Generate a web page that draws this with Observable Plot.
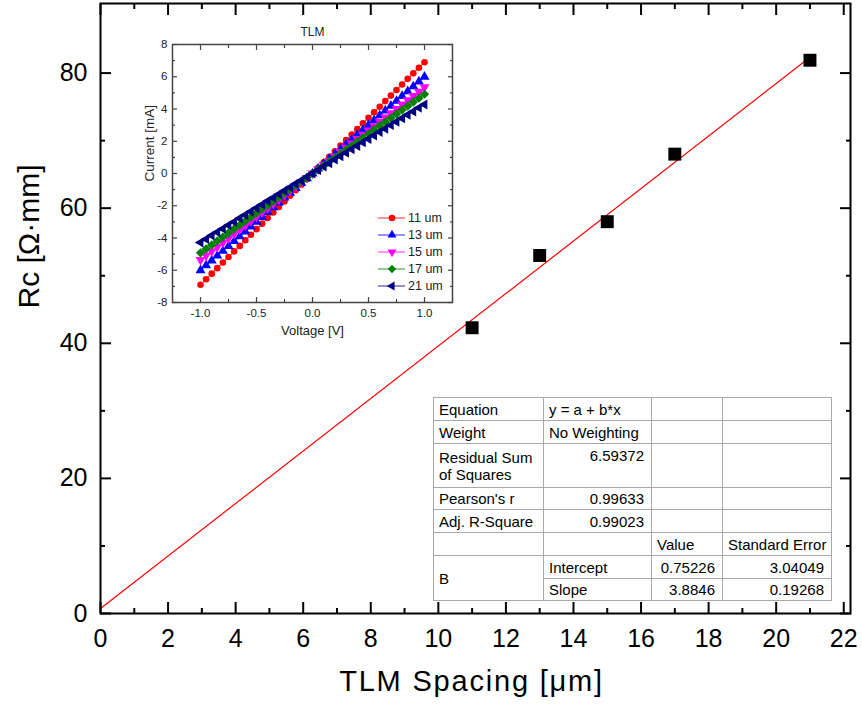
<!DOCTYPE html>
<html><head><meta charset="utf-8">
<script src="https://cdn.jsdelivr.net/npm/d3@7"></script>
<script src="https://cdn.jsdelivr.net/npm/@observablehq/plot@0.6"></script>
<style>
body{margin:0;background:#fff;}
#wrap{position:relative;width:862px;height:715px;font-family:"Liberation Sans",Arial,sans-serif;overflow:hidden;}
#main,#inset,#legend,#fit{position:absolute;}
#main{left:0;top:0}
#inset{left:100px;top:0}
#legend{left:370px;top:208px}
table#fit{left:433px;top:397px;width:398px;table-layout:fixed;border-collapse:collapse;background:#fff;font-size:15px;border:1px solid #000;color:#000;}
#fit td{border:1px solid #a8a8a8;padding:0 7px 0 5px;vertical-align:middle;line-height:17px;white-space:nowrap;overflow:hidden;}
#fit td.r{text-align:right;}
#fit td.t{vertical-align:top;padding-top:3px;}
</style></head>
<body><div id="wrap"><div id="main"></div><div id="inset"></div><svg id="legend" width="90" height="90"></svg><table id="fit"></table></div>
<script>
// ---------- main chart data ----------
const spacing = [11, 13, 15, 17, 21];
const rc = [42.3, 53.0, 58.0, 68.0, 81.9];
const fitX = [0, 21];
const fitY = [0.75, 82.33];
const xTicks = [0, 2, 4, 6, 8, 10, 12, 14, 16, 18, 20, 22];
const xMinor = [1, 3, 5, 7, 9, 11, 13, 15, 17, 19, 21];
const yTicks = [0, 20, 40, 60, 80];
const yMinor = [10, 30, 50, 70];

// ---------- inset data ----------
const voltage = [-1.00,-0.95,-0.90,-0.85,-0.80,-0.75,-0.70,-0.65,-0.60,-0.55,-0.50,-0.45,-0.40,-0.35,-0.30,-0.25,-0.20,-0.15,-0.10,-0.05,0.00,0.05,0.10,0.15,0.20,0.25,0.30,0.35,0.40,0.45,0.50,0.55,0.60,0.65,0.70,0.75,0.80,0.85,0.90,0.95,1.00];
const i11 = [-6.90,-6.56,-6.21,-5.87,-5.52,-5.18,-4.83,-4.49,-4.14,-3.80,-3.45,-3.11,-2.76,-2.42,-2.07,-1.73,-1.38,-1.04,-0.69,-0.35,0.00,0.35,0.69,1.04,1.38,1.73,2.07,2.42,2.76,3.11,3.45,3.80,4.14,4.49,4.83,5.18,5.52,5.87,6.21,6.56,6.90];
const i13 = [-6.00,-5.70,-5.40,-5.10,-4.80,-4.50,-4.20,-3.90,-3.60,-3.30,-3.00,-2.70,-2.40,-2.10,-1.80,-1.50,-1.20,-0.90,-0.60,-0.30,0.00,0.30,0.60,0.90,1.20,1.50,1.80,2.10,2.40,2.70,3.00,3.30,3.60,3.90,4.20,4.50,4.80,5.10,5.40,5.70,6.00];
const i15 = [-5.35,-5.08,-4.82,-4.55,-4.28,-4.01,-3.75,-3.48,-3.21,-2.94,-2.68,-2.41,-2.14,-1.87,-1.61,-1.34,-1.07,-0.80,-0.54,-0.27,0.00,0.27,0.54,0.80,1.07,1.34,1.61,1.87,2.14,2.41,2.68,2.94,3.21,3.48,3.75,4.01,4.28,4.55,4.82,5.08,5.35];
const i17 = [-4.92,-4.67,-4.43,-4.18,-3.94,-3.69,-3.44,-3.20,-2.95,-2.71,-2.46,-2.21,-1.97,-1.72,-1.48,-1.23,-0.98,-0.74,-0.49,-0.25,0.00,0.25,0.49,0.74,0.98,1.23,1.48,1.72,1.97,2.21,2.46,2.71,2.95,3.20,3.44,3.69,3.94,4.18,4.43,4.67,4.92];
const i21 = [-4.28,-4.07,-3.85,-3.64,-3.42,-3.21,-3.00,-2.78,-2.57,-2.35,-2.14,-1.93,-1.71,-1.50,-1.28,-1.07,-0.86,-0.64,-0.43,-0.21,0.00,0.21,0.43,0.64,0.86,1.07,1.28,1.50,1.71,1.93,2.14,2.35,2.57,2.78,3.00,3.21,3.42,3.64,3.85,4.07,4.28];
const seriesNames = ["11 um", "13 um", "15 um", "17 um", "21 um"];
const seriesCurrents = [i11, i13, i15, i17, i21];
const seriesColors = ["#ff0000", "#0000ff", "#ff00ff", "#008000", "#000080"];
const seriesSymbols = ["circle", "triangle", "triangle", "square", "triangle"];
const seriesRotate = [0, 0, 180, 45, -90];
const insetXTicks = [-1.0, -0.5, 0.0, 0.5, 1.0];
const insetXMinor = [-0.75, -0.25, 0.25, 0.75];
const insetYTicks = [-8, -6, -4, -2, 0, 2, 4, 6, 8];
const insetYMinor = [-7, -5, -3, -1, 1, 3, 5, 7];

// ---------- fit table ----------
const tableRows = [
  ["Equation", "y = a + b*x", "", ""],
  ["Weight", "No Weighting", "", ""],
  ["Residual Sum\nof Squares", "6.59372", "", ""],
  ["Pearson's r", "0.99633", "", ""],
  ["Adj. R-Square", "0.99023", "", ""],
  ["", "", "Value", "Standard Error"],
  ["B", "Intercept", "0.75226", "3.04049"],
  ["", "Slope", "3.8846", "0.19268"]
];

const FONT = "'Liberation Sans', Arial, sans-serif";

// ---------- main plot ----------
const pts = spacing.map((s, i) => ({x: s, y: rc[i]}));
const fitPts = fitX.map((x, i) => ({x, y: fitY[i]}));
const blank = () => "";
const main = Plot.plot({
  width: 862, height: 715,
  marginLeft: 100, marginRight: 12, marginTop: 3, marginBottom: 102,
  style: {fontFamily: FONT, fontSize: "25px", background: "transparent", color: "#000", overflow: "visible"},
  x: {domain: [0, 22.2]},
  y: {domain: [0, 90.3]},
  marks: [
    Plot.line(fitPts, {x: "x", y: "y", stroke: "#ff0000", strokeWidth: 1.2}),
    Plot.dot(pts, {x: "x", y: "y", symbol: "square", r: 7.3, fill: "#000", stroke: "none"}),
    Plot.frame({stroke: "#000", strokeWidth: 2}),
    Plot.axisX({anchor: "bottom", ticks: xTicks, tickSize: -11, tickPadding: 27, tickFormat: d => String(d), label: null, strokeWidth: 2}),
    Plot.axisX({anchor: "bottom", ticks: xMinor, tickSize: -5, tickFormat: blank, label: null, strokeWidth: 2}),
    Plot.axisX({anchor: "top", ticks: xTicks, tickSize: -11, tickFormat: blank, label: null, strokeWidth: 2}),
    Plot.axisX({anchor: "top", ticks: xMinor, tickSize: -5, tickFormat: blank, label: null, strokeWidth: 2}),
    Plot.axisY({anchor: "left", ticks: yTicks, tickSize: -11, tickPadding: 24, tickFormat: d => String(d), label: null, strokeWidth: 2}),
    Plot.axisY({anchor: "left", ticks: yMinor, tickSize: -5, tickFormat: blank, label: null, strokeWidth: 2}),
    Plot.axisY({anchor: "right", ticks: yTicks, tickSize: -11, tickFormat: blank, label: null, strokeWidth: 2}),
    Plot.axisY({anchor: "right", ticks: yMinor, tickSize: -5, tickFormat: blank, label: null, strokeWidth: 2}),
    Plot.text(["TLM Spacing [\u03BCm]"], {frameAnchor: "bottom", dx: -4, dy: 77, fontSize: 29, text: d => d, className: "xlab"}),
    Plot.text(["Rc [\u03A9\u00B7mm]"], {frameAnchor: "left", dx: -71, rotate: -90, fontSize: 30, text: d => d})
  ]
});
document.getElementById("main").appendChild(main);
d3.select(main).selectAll(".xlab text").style("letter-spacing", "1.8px");

// ---------- inset plot ----------
const insetMarks = [];
seriesCurrents.forEach((cur, k) => {
  const data = voltage.map((v, i) => ({v, c: cur[i]}));
  insetMarks.push(Plot.line(data, {x: "v", y: "c", stroke: seriesColors[k], strokeWidth: 1}));
  insetMarks.push(Plot.dot(data, {x: "v", y: "c", symbol: seriesSymbols[k], rotate: seriesRotate[k], r: k === 0 ? 3.3 : 3.7, fill: seriesColors[k], stroke: "none"}));
});
const AX = "#444";
const inset = Plot.plot({
  width: 370, height: 350,
  marginLeft: 72, marginRight: 18, marginTop: 44, marginBottom: 48,
  style: {fontFamily: FONT, fontSize: "11.5px", background: "transparent", color: "#222", overflow: "visible"},
  x: {domain: [-1.25, 1.25]},
  y: {domain: [-8, 8]},
  marks: [
    ...insetMarks,
    Plot.frame({stroke: AX, strokeWidth: 1.5}),
    Plot.axisX({anchor: "bottom", ticks: insetXTicks, tickSize: -5, tickPadding: 11, tickFormat: d => d.toFixed(1), label: null, stroke: AX, strokeWidth: 1.2}),
    Plot.axisX({anchor: "bottom", ticks: insetXMinor, tickSize: -3, tickFormat: blank, label: null, stroke: AX, strokeWidth: 1.2}),
    Plot.axisX({anchor: "top", ticks: insetXTicks, tickSize: -5, tickFormat: blank, label: null, stroke: AX, strokeWidth: 1.2}),
    Plot.axisX({anchor: "top", ticks: insetXMinor, tickSize: -3, tickFormat: blank, label: null, stroke: AX, strokeWidth: 1.2}),
    Plot.axisY({anchor: "left", ticks: insetYTicks, tickSize: -5, tickPadding: 10, tickFormat: d => String(d), label: null, stroke: AX, strokeWidth: 1.2}),
    Plot.axisY({anchor: "left", ticks: insetYMinor, tickSize: -3, tickFormat: blank, label: null, stroke: AX, strokeWidth: 1.2}),
    Plot.axisY({anchor: "right", ticks: insetYTicks, tickSize: -5, tickFormat: blank, label: null, stroke: AX, strokeWidth: 1.2}),
    Plot.axisY({anchor: "right", ticks: insetYMinor, tickSize: -3, tickFormat: blank, label: null, stroke: AX, strokeWidth: 1.2}),
    Plot.text(["TLM"], {frameAnchor: "top", dy: -17, fontSize: 12, text: d => d}),
    Plot.text(["Voltage [V]"], {frameAnchor: "bottom", dy: 32, fontSize: 13, text: d => d}),
    Plot.text(["Current [mA]"], {frameAnchor: "left", dx: -23, dy: 8, rotate: -90, fontSize: 13.5, text: d => d})
  ]
});
document.getElementById("inset").appendChild(inset);

// ---------- inset legend ----------
const lg = d3.select("#legend");
seriesNames.forEach((name, k) => {
  const y = 10 + 17 * k;
  lg.append("line").attr("x1", 8).attr("x2", 35).attr("y1", y).attr("y2", y)
    .attr("stroke", seriesColors[k]).attr("stroke-width", 1.3).attr("opacity", 0.65);
  const sym = {circle: d3.symbolCircle, triangle: d3.symbolTriangle, square: d3.symbolSquare}[seriesSymbols[k]];
  lg.append("path").attr("d", d3.symbol(sym, Math.PI * 11)())
    .attr("transform", `translate(22,${y}) rotate(${seriesRotate[k]})`).attr("fill", seriesColors[k]);
  lg.append("text").attr("x", 38).attr("y", y).attr("dy", "0.35em")
    .attr("font-family", FONT).attr("font-size", 12.5).attr("fill", "#222").text(name);
});

// ---------- fit table ----------
const rowHeights = [23, 23, 44, 22, 23, 23, 23, 22];
const colWidths = [110, 108, 71, 109];
const tbl = d3.select("#fit");
const cg = tbl.append("colgroup");
colWidths.forEach(w => cg.append("col").style("width", w + "px"));
tableRows.forEach((row, r) => {
  const tr = tbl.append("tr").style("height", rowHeights[r] + "px");
  row.forEach((cell, c) => {
    if (r === 7 && c === 0) return;
    const td = tr.append("td");
    cell.split("\n").forEach((line, j) => {
      if (j > 0) td.append("br");
      td.append("span").text(line);
    });
    if (r === 6 && c === 0) td.attr("rowspan", 2);
    const numeric = /^[0-9.]+$/.test(cell);
    if (numeric) td.classed("r", true);
    if (r === 2 && c === 1) td.classed("t", true);
  });
});
</script>
</body></html>
